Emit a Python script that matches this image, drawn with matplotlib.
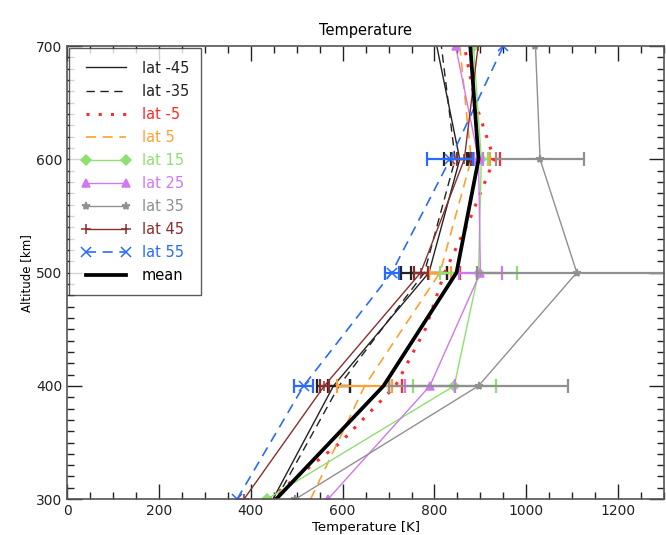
import numpy as np
import matplotlib
matplotlib.use("Agg")
import matplotlib.pyplot as plt
from matplotlib.ticker import MultipleLocator

# Altitude levels [km]
alt = [300, 400, 500, 600, 700]
alt_fine = [300, 350, 400, 450, 500, 550, 600, 650, 700]
err_alt = [400, 500, 600]

# Temperature profiles [K]
t_m45 = [448, 580, 788, 855, 805]
t_m35 = [455, 592, 778, 845, 815]
t_m5 = [440, 595, 715, 780, 822, 880, 930, 889, 865]
t_p5 = [530, 648, 812, 880, 855]
t_p15 = [435, 843, 896, 902, 885]
t_p25 = [568, 790, 900, 896, 846]
t_p35 = [497, 896, 1110, 1030, 1020]
t_p45 = [385, 560, 770, 865, 895]
t_p55 = [370, 515, 707, 834, 950]
t_mean = [455, 689, 848, 896, 878]

# Uncertainties at 400, 500, 600 km [K]
e_m45 = [35, 40, 20]
e_m35 = [25, 50, 25]
e_m5 = [15, 34, 12]
e_p5 = [60, 25, 40]
e_p15 = [90, 83, 15]
e_p25 = [55, 46, 10]
e_p35 = [195, 218, 95]
e_p45 = [10, 15, 15]
e_p55 = [20, 15, 50]

labels = ["lat -45", "lat -35", "lat -5", "lat 5", "lat 15", "lat 25",
          "lat 35", "lat 45", "lat 55", "mean"]

series = [
    # (temps, alts, errs, color, linestyle, marker, lw)
    (t_m45, alt, e_m45, "#222222", "-", None, 1.0),
    (t_m35, alt, e_m35, "#222222", (0, (6, 4)), None, 1.0),
    (t_m5, alt_fine, e_m5, "#ff2a2a", (0, (1, 3)), None, 2.2),
    (t_p5, alt, e_p5, "#ffa030", (0, (6, 4)), None, 1.2),
    (t_p15, alt, e_p15, "#8ee070", "-", "D", 1.0),
    (t_p25, alt, e_p25, "#d078f0", "-", "^", 1.0),
    (t_p35, alt, e_p35, "#909090", "-", "*", 1.0),
    (t_p45, alt, e_p45, "#8b2e2e", "-", "+", 1.0),
    (t_p55, alt, e_p55, "#2a6aff", (0, (6, 4)), "x", 1.2),
]
msizes = {"D": 5, "^": 5.5, "*": 6, "+": 7, "x": 7}

fig = plt.figure(figsize=(6.66, 5.35), dpi=100)
ax = fig.add_axes([0.101, 0.067, 0.896, 0.847])

handles = []
for (t, a, e, c, ls, mk, lw), lab in zip(series, labels[:-1]):
    ln, = ax.plot(t, a, color=c, linestyle=ls, lw=lw, marker=mk,
                  markersize=msizes.get(mk, 5),
                  markeredgewidth=1.1, label=lab, clip_on=True)
    tt = [t[a.index(z)] for z in err_alt]
    ax.errorbar(tt, err_alt, xerr=e, fmt="none", ecolor=c, elinewidth=1.6,
                capsize=5, capthick=1.6)
    handles.append(ln)

ln, = ax.plot(t_mean, alt, color="black", lw=2.7, label="mean")
handles.append(ln)

ax.set_xlim(0, 1300)
ax.set_ylim(300, 700)
ax.xaxis.set_major_locator(MultipleLocator(200))
ax.xaxis.set_minor_locator(MultipleLocator(50))
ax.yaxis.set_major_locator(MultipleLocator(100))
ax.yaxis.set_minor_locator(MultipleLocator(10))
ax.tick_params(which="both", direction="in", top=True, right=True,
               labelsize=10, colors="#222222")
ax.tick_params(which="major", length=11, width=1.0)
ax.tick_params(which="minor", length=5, width=1.0)
for s in ax.spines.values():
    s.set_color("#555555")
    s.set_linewidth(1.2)

ax.set_title("Temperature", fontsize=10.5, pad=8)
ax.set_xlabel("Temperature [K]", fontsize=9.5, labelpad=2)
ax.set_ylabel("Altitude [km]", fontsize=8.5, labelpad=2)

leg = ax.legend(handles=handles, loc="upper left", fontsize=10.5,
                handlelength=3.3, numpoints=2, frameon=True, fancybox=False,
                borderaxespad=0.15, labelspacing=0.55, handletextpad=0.8,
                borderpad=0.85)
leg.get_frame().set_edgecolor("#333333")
leg.get_frame().set_linewidth(1.0)
for txt, h in zip(leg.get_texts(), handles):
    txt.set_color(h.get_color())

fig.savefig("out.png", dpi=100)
